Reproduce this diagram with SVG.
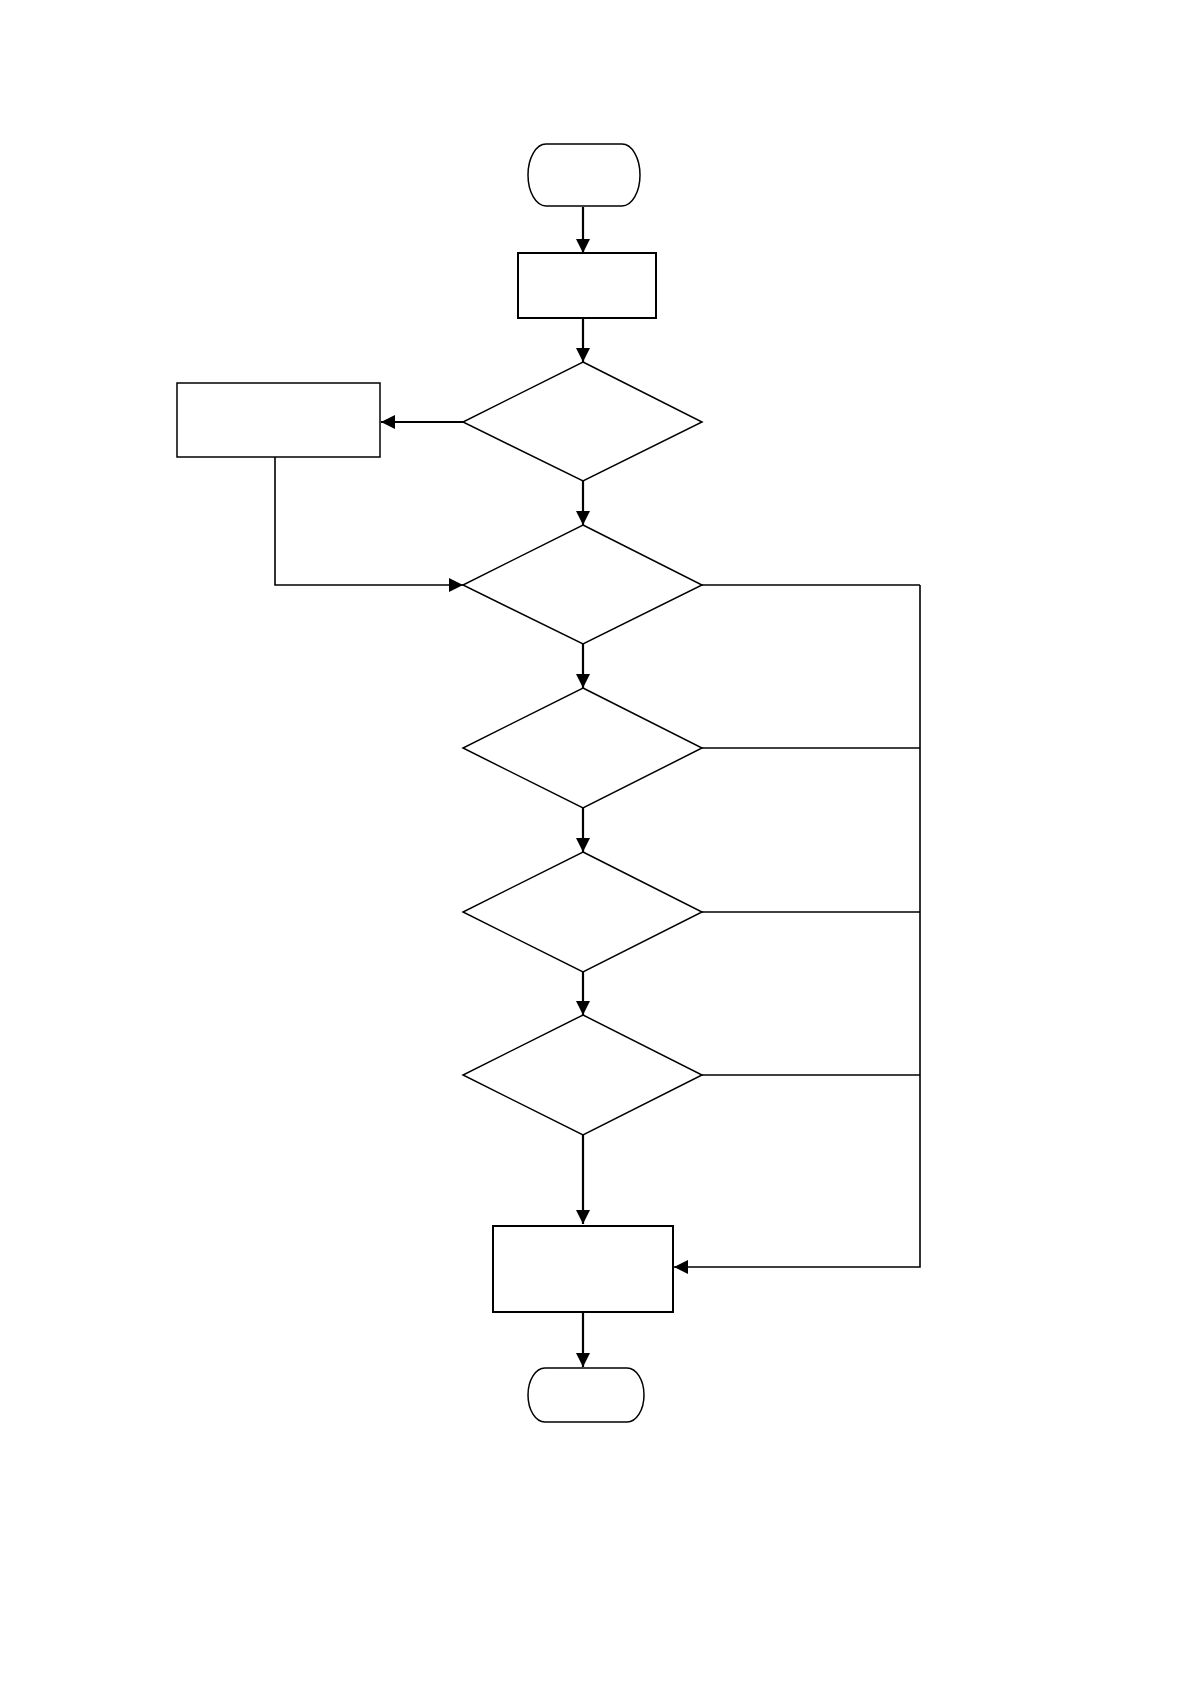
<svg xmlns="http://www.w3.org/2000/svg" width="1191" height="1684" viewBox="0 0 1191 1684">
<style>
.shape{fill:#fff;stroke:#000;stroke-width:2}
.thin{fill:#fff;stroke:#000;stroke-width:1.5}
.conn{fill:none;stroke:#000;stroke-width:2.2}
.line{fill:none;stroke:#000;stroke-width:1.6}
</style>
<defs>
<marker id="arr" markerUnits="userSpaceOnUse" markerWidth="14" markerHeight="14" viewBox="0 0 12 12" refX="12" refY="6" orient="auto">
<path d="M0,0 L12,6 L0,12 Z" fill="#000"/>
</marker>
</defs>
<rect width="1191" height="1684" fill="#fff"/>
<g id="connectors">
<line class="conn" x1="583" y1="207" x2="583" y2="253" marker-end="url(#arr)"/>
<line class="conn" x1="583" y1="318" x2="583" y2="362" marker-end="url(#arr)"/>
<line class="conn" x1="463" y1="422" x2="381" y2="422" marker-end="url(#arr)"/>
<polyline class="line" points="275,457 275,585 463,585" marker-end="url(#arr)"/>
<line class="conn" x1="583" y1="481" x2="583" y2="525" marker-end="url(#arr)"/>
<line class="conn" x1="583" y1="644" x2="583" y2="688" marker-end="url(#arr)"/>
<line class="conn" x1="583" y1="808" x2="583" y2="852" marker-end="url(#arr)"/>
<line class="conn" x1="583" y1="972" x2="583" y2="1015" marker-end="url(#arr)"/>
<line class="conn" x1="583" y1="1135" x2="583" y2="1224" marker-end="url(#arr)"/>
<line class="conn" x1="583" y1="1312" x2="583" y2="1367" marker-end="url(#arr)"/>
<line class="line" x1="702" y1="585" x2="920" y2="585"/>
<line class="line" x1="702" y1="748" x2="920" y2="748"/>
<line class="line" x1="702" y1="912" x2="920" y2="912"/>
<line class="line" x1="702" y1="1075" x2="920" y2="1075"/>
<polyline class="line" points="920,585 920,1267 674,1267" marker-end="url(#arr)"/>
</g>
<g id="start"><rect class="thin" x="528" y="144" width="112" height="62" rx="18" ry="31"/></g>
<g id="step1"><rect class="shape" x="518" y="253" width="138" height="65"/></g>
<g id="decision1"><polygon class="thin" points="583,362 702,422 583,481 463,422"/></g>
<g id="sidebox"><rect class="thin" x="177" y="383" width="203" height="74"/></g>
<g id="decision2"><polygon class="thin" points="583,525 702,585 583,644 463,585"/></g>
<g id="decision3"><polygon class="thin" points="583,688 702,748 583,808 463,748"/></g>
<g id="decision4"><polygon class="thin" points="583,852 702,912 583,972 463,912"/></g>
<g id="decision5"><polygon class="thin" points="583,1015 702,1075 583,1135 463,1075"/></g>
<g id="step2"><rect class="shape" x="493" y="1226" width="180" height="86"/></g>
<g id="end"><rect class="thin" x="528" y="1368" width="116" height="54" rx="17" ry="27"/></g>
</svg>
